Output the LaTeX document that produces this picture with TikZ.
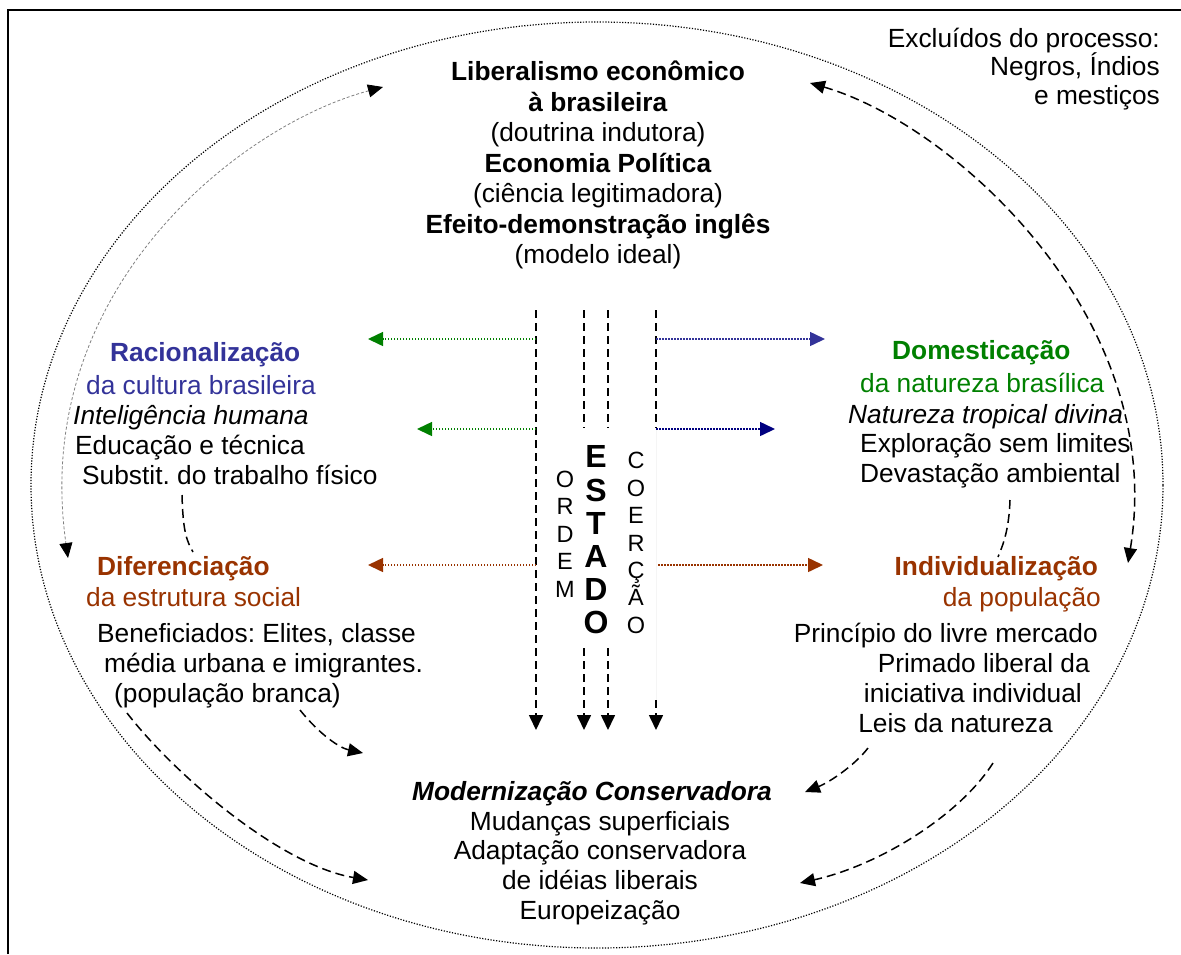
\documentclass[tikz,border=0pt]{standalone}
\usepackage{fontspec}
\setmainfont{Liberation Sans}
\usetikzlibrary{arrows.meta}
\definecolor{RacBlue}{RGB}{51,51,153}
\definecolor{DomGreen}{RGB}{0,128,0}
\definecolor{DifBrown}{RGB}{153,51,0}
\definecolor{DeepNavy}{RGB}{0,0,128}
\frenchspacing
\tikzset{
  txt/.style={inner sep=0pt,font=\fontsize{26.3}{30.5}\selectfont},
  letters/.style={inner sep=0pt,align=center,font=\fontsize{23.5}{27.4}\selectfont},
  stateflow/.style={-{Triangle[length=15pt,width=14pt]},line width=1.6pt,dash pattern=on 8pt off 5pt},
  curveline/.style={line width=1.5pt,dash pattern=on 9pt off 5pt},
  curveflow/.style={curveline,-{Triangle[length=15pt,width=13pt]}},
  bothflow/.style={curveline,{Triangle[length=15pt,width=13pt]}-{Triangle[length=15pt,width=13pt]}},
  dotflow/.style={-{Triangle[length=15pt,width=14pt]},line width=1.5pt,dash pattern=on 1.5pt off 1.5pt},
  thinflow/.style={{Triangle[length=15pt,width=13pt,color=black]}-{Triangle[length=15pt,width=13pt,color=black]},
    line width=0.8pt,draw=gray,dash pattern=on 3pt off 2pt},
  rim/.style={line width=1.2pt,dash pattern=on 1.2pt off 1.6pt}
}

\begin{document}
\begin{tikzpicture}[x=1pt,y=-1pt]
  \useasboundingbox (0,0) rectangle (1181,954);
  \draw[line width=2.5pt] (8,954) -- (8,10) -- (1181,10);
  \draw[rim] (597,485) ellipse [x radius=566pt, y radius=463pt];

  % top: doctrine
  \node[txt,align=center] (lib) at (598,165) {\textbf{Liberalismo econômico}\\\textbf{à brasileira}\\(doutrina indutora)\\
    \textbf{Economia Política}\\(ciência legitimadora)\\\textbf{Efeito-demonstração inglês}\\(modelo ideal)};
  \node[txt,align=right,anchor=east,font=\fontsize{26.3}{28.7}\selectfont] (excl) at (1160,69) {Excluídos do processo:\\Negros, Índios\\e mestiços};

  % left upper
  \node[txt,anchor=base west,text=RacBlue] (rac) at (110,361) {\textbf{Racionalização}};
  \node[txt,anchor=base west,text=RacBlue] (racsub) at (86,394) {da cultura brasileira};
  \node[txt,anchor=base west] (rac3) at (73,424) {\textit{Inteligência humana}};
  \node[txt,anchor=base west] (rac4) at (75,454) {Educação e técnica};
  \node[txt,anchor=base west] (rac5) at (82,484) {Substit. do trabalho físico};

  % right upper
  \node[txt,anchor=base west,text=DomGreen] (dom) at (892,359) {\textbf{Domesticação}};
  \node[txt,anchor=base west,text=DomGreen] (domsub) at (860,392) {da natureza brasílica};
  \node[txt,anchor=base west] (dom3) at (848,423) {\textit{Natureza tropical divina}};
  \node[txt,anchor=base west] (dom4) at (860,452) {Exploração sem limites};
  \node[txt,anchor=base west] (dom5) at (860,482) {Devastação ambiental};

  % left lower
  \node[txt,anchor=base west,text=DifBrown] (dif) at (97,575) {\textbf{Diferenciação}};
  \node[txt,anchor=base west,text=DifBrown] (difsub) at (86,606) {da estrutura social};
  \node[txt,anchor=base west] (dif3) at (97,642) {Beneficiados: Elites, classe};
  \node[txt,anchor=base west] (dif4) at (104,672) {média urbana e imigrantes.};
  \node[txt,anchor=base west] (dif5) at (114,702) {(população branca)};

  % right lower
  \node[txt,anchor=base east,text=DifBrown] (ind) at (1098,575) {\textbf{Individualização}};
  \node[txt,anchor=base east,text=DifBrown] (indsub) at (1101,606) {da população};
  \node[txt,anchor=base east] (ind3) at (1098,642) {Princípio do livre mercado};
  \node[txt,anchor=base east] (ind4) at (1090,672) {Primado liberal da};
  \node[txt,anchor=base east] (ind5) at (1082,702) {iniciativa individual};
  \node[txt,anchor=base east] (ind6) at (1053,732) {Leis da natureza};

  % bottom
  \node[txt,align=center,font=\fontsize{26.3}{29.7}\selectfont] (moder) at (600,853) {\hspace*{-16pt}\textbf{\textit{Modernização Conservadora}}\\
    Mudanças superficiais\\Adaptação conservadora\\de idéias liberais\\Europeização};

  % the state column
  \node[letters] (ordem) at (565,534) {O\\R\\D\\E\\M};
  \node[inner sep=0pt,align=center,font=\fontsize{32}{33.2}\selectfont\bfseries] (estado) at (596,540) {E\\S\\T\\A\\D\\O};
  \node[letters] (coercao) at (636,543) {C\\O\\E\\R\\Ç\\Ã\\O};

  \coordinate (ordTop) at (536,310);
  \coordinate (ordBot) at (536,730);
  \coordinate (esLTop) at (584,310);
  \coordinate (esLMid) at (584,428);
  \coordinate (esLLow) at (584,648);
  \coordinate (esLBot) at (584,730);
  \coordinate (esRTop) at (608,310);
  \coordinate (esRMid) at (608,428);
  \coordinate (esRLow) at (608,648);
  \coordinate (esRBot) at (608,730);
  \coordinate (coeTop) at (656,310);
  \coordinate (coeMid) at (656,428);
  \coordinate (coeLow) at (656,700);
  \coordinate (coeBot) at (656,730);
  \draw[stateflow] (ordTop) -- (ordBot);
  \draw[stateflow,-] (esLTop) -- (esLMid);
  \draw[stateflow] (esLLow) -- (esLBot);
  \draw[stateflow,-] (esRTop) -- (esRMid);
  \draw[stateflow] (esRLow) -- (esRBot);
  \draw[stateflow,-] (coeTop) -- (coeMid);
  \draw[black!4,line width=0.8pt] (coeMid) -- (coeLow);
  \draw[stateflow] (coeLow) -- (coeBot);

  % sideways
  \coordinate (gr1) at (536,339);
  \coordinate (gr2) at (536,429);
  \coordinate (br1) at (536,565);
  \coordinate (bl1) at (656,339);
  \coordinate (bl2) at (656,429);
  \coordinate (br2) at (658,565);
  \coordinate (racTip) at (368,339);
  \coordinate (racTip2) at (417,429);
  \coordinate (difTip) at (368,565);
  \coordinate (domTip) at (825,339);
  \coordinate (domTip2) at (775,429);
  \coordinate (indTip) at (823,565);
  \draw[dotflow,DomGreen] (gr1) -- (racTip);
  \draw[dotflow,DomGreen] (gr2) -- (racTip2);
  \draw[dotflow,DifBrown] (br1) -- (difTip);
  \draw[dotflow,RacBlue] (bl1) -- (domTip);
  \draw[dotflow,DeepNavy] (bl2) -- (domTip2);
  \draw[dotflow,DifBrown] (br2) -- (indTip);

  % curved links
  \coordinate (aTop) at (383,87);
  \coordinate (aBot) at (68,558);
  \coordinate (bTop) at (810,83);
  \coordinate (bBot) at (1128,563);
  \draw[thinflow] (aTop) .. controls (240,125) and (30,290) .. (aBot);
  \draw[bothflow] (bTop) .. controls (955,125) and (1168,320) .. (bBot);

  \coordinate (racOut) at (182,495);
  \coordinate (difIn) at (193,552);
  \coordinate (domOut) at (1010,500);
  \coordinate (indIn) at (998,557);
  \draw[curveline] (racOut) .. controls (183,530) and (186,540) .. (difIn);
  \draw[curveline] (domOut) .. controls (1009,530) and (1003,545) .. (indIn);

  \coordinate (difOut) at (300,710);
  \coordinate (difOut2) at (127,713);
  \coordinate (indOut) at (868,748);
  \coordinate (indOut2) at (993,763);
  \coordinate (modA) at (363,753);
  \coordinate (modB) at (368,880);
  \coordinate (modC) at (805,792);
  \coordinate (modD) at (800,883);
  \draw[curveflow] (difOut) .. controls (320,735) and (340,748) .. (modA);
  \draw[curveflow] (difOut2) .. controls (175,775) and (280,865) .. (modB);
  \draw[curveflow] (indOut) .. controls (855,765) and (830,782) .. (modC);
  \draw[curveflow] (indOut2) .. controls (960,815) and (880,865) .. (modD);
\end{tikzpicture}
\end{document}
